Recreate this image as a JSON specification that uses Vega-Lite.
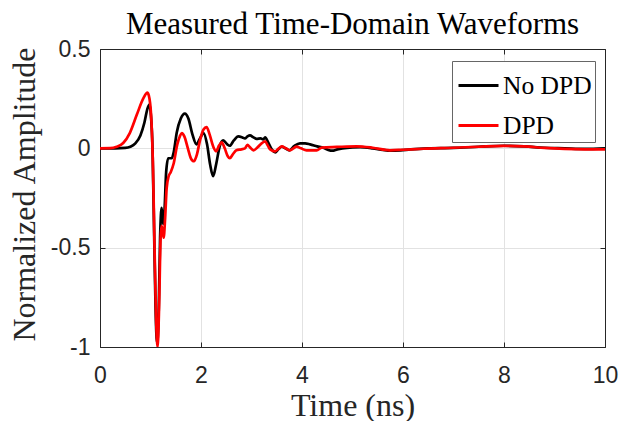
{
  "$schema": "https://vega.github.io/schema/vega-lite/v6.json",
  "autosize": "none",
  "width": 505,
  "height": 298,
  "padding": {"left": 100, "top": 49, "right": 15, "bottom": 74},
  "background": "white",
  "config": {
    "view": {"stroke": null},
    "axis": {
      "domainColor": "#262626",
      "domainWidth": 1,
      "tickColor": "#262626",
      "tickWidth": 1,
      "tickSize": -5,
      "labelFont": "Liberation Sans",
      "labelFontSize": 23,
      "labelColor": "#262626",
      "gridColor": "#e2e2e2",
      "gridWidth": 1,
      "titleFont": "Liberation Serif",
      "titleFontSize": 32,
      "titleFontWeight": "normal",
      "titleColor": "#262626"
    },
    "legend": {
      "labelFont": "Liberation Serif",
      "labelFontSize": 25.5,
      "labelColor": "black"
    },
    "title": {
      "font": "Liberation Serif",
      "fontSize": 31,
      "fontWeight": "normal",
      "color": "black",
      "anchor": "middle",
      "baseline": "alphabetic",
      "offset": -3
    }
  },
  "title": "Measured Time-Domain Waveforms",
  "data": {
    "values": [
      {"t": 0, "amp": 0, "series": "No DPD"},
      {"t": 0.3, "amp": 0, "series": "No DPD"},
      {"t": 0.5, "amp": 0.002, "series": "No DPD"},
      {"t": 0.6, "amp": 0.008, "series": "No DPD"},
      {"t": 0.7, "amp": 0.025, "series": "No DPD"},
      {"t": 0.8, "amp": 0.065, "series": "No DPD"},
      {"t": 0.88, "amp": 0.13, "series": "No DPD"},
      {"t": 0.94, "amp": 0.2, "series": "No DPD"},
      {"t": 0.98, "amp": 0.22, "series": "No DPD"},
      {"t": 1.01, "amp": 0.16, "series": "No DPD"},
      {"t": 1.04, "amp": 0.0, "series": "No DPD"},
      {"t": 1.07, "amp": -0.4, "series": "No DPD"},
      {"t": 1.1, "amp": -0.8, "series": "No DPD"},
      {"t": 1.13, "amp": -0.98, "series": "No DPD"},
      {"t": 1.16, "amp": -0.85, "series": "No DPD"},
      {"t": 1.19, "amp": -0.45, "series": "No DPD"},
      {"t": 1.22, "amp": -0.3, "series": "No DPD"},
      {"t": 1.25, "amp": -0.38, "series": "No DPD"},
      {"t": 1.28, "amp": -0.3, "series": "No DPD"},
      {"t": 1.31, "amp": -0.12, "series": "No DPD"},
      {"t": 1.35, "amp": -0.05, "series": "No DPD"},
      {"t": 1.42, "amp": -0.05, "series": "No DPD"},
      {"t": 1.46, "amp": -0.02, "series": "No DPD"},
      {"t": 1.52, "amp": 0.08, "series": "No DPD"},
      {"t": 1.6, "amp": 0.15, "series": "No DPD"},
      {"t": 1.68, "amp": 0.175, "series": "No DPD"},
      {"t": 1.75, "amp": 0.15, "series": "No DPD"},
      {"t": 1.83, "amp": 0.07, "series": "No DPD"},
      {"t": 1.91, "amp": 0.02, "series": "No DPD"},
      {"t": 1.98, "amp": 0.05, "series": "No DPD"},
      {"t": 2.05, "amp": 0.077, "series": "No DPD"},
      {"t": 2.12, "amp": 0.02, "series": "No DPD"},
      {"t": 2.18, "amp": -0.08, "series": "No DPD"},
      {"t": 2.24, "amp": -0.14, "series": "No DPD"},
      {"t": 2.3, "amp": -0.08, "series": "No DPD"},
      {"t": 2.37, "amp": 0.01, "series": "No DPD"},
      {"t": 2.44, "amp": 0.04, "series": "No DPD"},
      {"t": 2.52, "amp": 0.02, "series": "No DPD"},
      {"t": 2.57, "amp": 0.013, "series": "No DPD"},
      {"t": 2.65, "amp": 0.04, "series": "No DPD"},
      {"t": 2.74, "amp": 0.06, "series": "No DPD"},
      {"t": 2.82, "amp": 0.055, "series": "No DPD"},
      {"t": 2.87, "amp": 0.05, "series": "No DPD"},
      {"t": 2.92, "amp": 0.06, "series": "No DPD"},
      {"t": 2.97, "amp": 0.065, "series": "No DPD"},
      {"t": 3.04, "amp": 0.055, "series": "No DPD"},
      {"t": 3.1, "amp": 0.048, "series": "No DPD"},
      {"t": 3.18, "amp": 0.05, "series": "No DPD"},
      {"t": 3.23, "amp": 0.045, "series": "No DPD"},
      {"t": 3.27, "amp": 0.055, "series": "No DPD"},
      {"t": 3.33, "amp": 0.03, "series": "No DPD"},
      {"t": 3.4, "amp": -0.005, "series": "No DPD"},
      {"t": 3.47, "amp": -0.02, "series": "No DPD"},
      {"t": 3.53, "amp": -0.005, "series": "No DPD"},
      {"t": 3.6, "amp": 0.008, "series": "No DPD"},
      {"t": 3.67, "amp": 0.0, "series": "No DPD"},
      {"t": 3.75, "amp": -0.01, "series": "No DPD"},
      {"t": 3.85, "amp": 0.012, "series": "No DPD"},
      {"t": 3.96, "amp": 0.025, "series": "No DPD"},
      {"t": 4.06, "amp": 0.025, "series": "No DPD"},
      {"t": 4.16, "amp": 0.02, "series": "No DPD"},
      {"t": 4.3, "amp": 0.01, "series": "No DPD"},
      {"t": 4.42, "amp": 0.003, "series": "No DPD"},
      {"t": 4.52, "amp": -0.008, "series": "No DPD"},
      {"t": 4.6, "amp": -0.012, "series": "No DPD"},
      {"t": 4.7, "amp": -0.005, "series": "No DPD"},
      {"t": 4.8, "amp": 0.0, "series": "No DPD"},
      {"t": 5.0, "amp": 0.005, "series": "No DPD"},
      {"t": 5.15, "amp": 0.006, "series": "No DPD"},
      {"t": 5.4, "amp": 0.0, "series": "No DPD"},
      {"t": 5.6, "amp": -0.008, "series": "No DPD"},
      {"t": 5.75, "amp": -0.012, "series": "No DPD"},
      {"t": 5.95, "amp": -0.01, "series": "No DPD"},
      {"t": 6.15, "amp": -0.005, "series": "No DPD"},
      {"t": 6.5, "amp": 0.0, "series": "No DPD"},
      {"t": 7.0, "amp": 0.002, "series": "No DPD"},
      {"t": 7.5, "amp": 0.008, "series": "No DPD"},
      {"t": 8.0, "amp": 0.013, "series": "No DPD"},
      {"t": 8.4, "amp": 0.01, "series": "No DPD"},
      {"t": 8.8, "amp": 0.003, "series": "No DPD"},
      {"t": 9.2, "amp": 0.0, "series": "No DPD"},
      {"t": 9.6, "amp": -0.003, "series": "No DPD"},
      {"t": 10, "amp": 0.0, "series": "No DPD"},
      {"t": 0, "amp": 0, "series": "DPD"},
      {"t": 0.2, "amp": 0.001, "series": "DPD"},
      {"t": 0.33, "amp": 0.008, "series": "DPD"},
      {"t": 0.46, "amp": 0.027, "series": "DPD"},
      {"t": 0.59, "amp": 0.077, "series": "DPD"},
      {"t": 0.73, "amp": 0.17, "series": "DPD"},
      {"t": 0.86, "amp": 0.253, "series": "DPD"},
      {"t": 0.94, "amp": 0.28, "series": "DPD"},
      {"t": 0.98, "amp": 0.25, "series": "DPD"},
      {"t": 1.02, "amp": 0.13, "series": "DPD"},
      {"t": 1.05, "amp": -0.1, "series": "DPD"},
      {"t": 1.08, "amp": -0.5, "series": "DPD"},
      {"t": 1.11, "amp": -0.85, "series": "DPD"},
      {"t": 1.14, "amp": -1.0, "series": "DPD"},
      {"t": 1.17, "amp": -0.8, "series": "DPD"},
      {"t": 1.2, "amp": -0.45, "series": "DPD"},
      {"t": 1.22, "amp": -0.39, "series": "DPD"},
      {"t": 1.26, "amp": -0.45, "series": "DPD"},
      {"t": 1.29, "amp": -0.35, "series": "DPD"},
      {"t": 1.32, "amp": -0.2, "series": "DPD"},
      {"t": 1.36, "amp": -0.14, "series": "DPD"},
      {"t": 1.4, "amp": -0.12, "series": "DPD"},
      {"t": 1.46, "amp": -0.075, "series": "DPD"},
      {"t": 1.53, "amp": 0.02, "series": "DPD"},
      {"t": 1.58, "amp": 0.06, "series": "DPD"},
      {"t": 1.62, "amp": 0.077, "series": "DPD"},
      {"t": 1.67, "amp": 0.06, "series": "DPD"},
      {"t": 1.74, "amp": 0.0, "series": "DPD"},
      {"t": 1.8, "amp": -0.05, "series": "DPD"},
      {"t": 1.86, "amp": -0.065, "series": "DPD"},
      {"t": 1.92, "amp": -0.03, "series": "DPD"},
      {"t": 1.98, "amp": 0.04, "series": "DPD"},
      {"t": 2.05, "amp": 0.095, "series": "DPD"},
      {"t": 2.11, "amp": 0.107, "series": "DPD"},
      {"t": 2.17, "amp": 0.07, "series": "DPD"},
      {"t": 2.24, "amp": 0.01, "series": "DPD"},
      {"t": 2.3, "amp": -0.015, "series": "DPD"},
      {"t": 2.36, "amp": 0.015, "series": "DPD"},
      {"t": 2.41, "amp": 0.03, "series": "DPD"},
      {"t": 2.47, "amp": 0.0, "series": "DPD"},
      {"t": 2.53, "amp": -0.04, "series": "DPD"},
      {"t": 2.57, "amp": -0.05, "series": "DPD"},
      {"t": 2.63, "amp": -0.03, "series": "DPD"},
      {"t": 2.7, "amp": -0.01, "series": "DPD"},
      {"t": 2.8, "amp": -0.005, "series": "DPD"},
      {"t": 2.87, "amp": 0.0, "series": "DPD"},
      {"t": 2.92, "amp": 0.018, "series": "DPD"},
      {"t": 2.97, "amp": 0.005, "series": "DPD"},
      {"t": 3.04, "amp": -0.01, "series": "DPD"},
      {"t": 3.12, "amp": 0.005, "series": "DPD"},
      {"t": 3.2, "amp": 0.025, "series": "DPD"},
      {"t": 3.27, "amp": 0.035, "series": "DPD"},
      {"t": 3.32, "amp": 0.015, "series": "DPD"},
      {"t": 3.37, "amp": -0.005, "series": "DPD"},
      {"t": 3.47, "amp": -0.015, "series": "DPD"},
      {"t": 3.53, "amp": -0.003, "series": "DPD"},
      {"t": 3.6, "amp": 0.01, "series": "DPD"},
      {"t": 3.68, "amp": 0.0, "series": "DPD"},
      {"t": 3.76, "amp": -0.01, "series": "DPD"},
      {"t": 3.83, "amp": 0.0, "series": "DPD"},
      {"t": 3.89, "amp": 0.009, "series": "DPD"},
      {"t": 3.98, "amp": 0.0, "series": "DPD"},
      {"t": 4.09, "amp": -0.01, "series": "DPD"},
      {"t": 4.29, "amp": -0.01, "series": "DPD"},
      {"t": 4.39, "amp": 0.004, "series": "DPD"},
      {"t": 4.69, "amp": 0.007, "series": "DPD"},
      {"t": 5.08, "amp": 0.01, "series": "DPD"},
      {"t": 5.4, "amp": 0.003, "series": "DPD"},
      {"t": 5.74, "amp": -0.01, "series": "DPD"},
      {"t": 6.0, "amp": -0.007, "series": "DPD"},
      {"t": 6.4, "amp": -0.002, "series": "DPD"},
      {"t": 7.0, "amp": 0.003, "series": "DPD"},
      {"t": 7.5, "amp": 0.008, "series": "DPD"},
      {"t": 8.0, "amp": 0.012, "series": "DPD"},
      {"t": 8.4, "amp": 0.01, "series": "DPD"},
      {"t": 8.8, "amp": 0.002, "series": "DPD"},
      {"t": 9.2, "amp": -0.003, "series": "DPD"},
      {"t": 9.6, "amp": -0.005, "series": "DPD"},
      {"t": 10, "amp": -0.005, "series": "DPD"}
    ]
  },
  "layer": [
    {
      "mark": {"type": "line", "strokeWidth": 2.7, "interpolate": "monotone", "clip": true},
      "encoding": {
        "x": {
          "field": "t",
          "type": "quantitative",
          "scale": {"domain": [0, 10], "nice": false, "zero": false},
          "axis": {
            "orient": "bottom",
            "values": [0, 2, 4, 6, 8, 10],
            "grid": true,
            "labelPadding": 22,
            "labelFlush": false,
            "title": "Time (ns)",
            "titleX": 252.5,
            "titleY": 68,
            "titleAlign": "center",
            "titleBaseline": "alphabetic"
          }
        },
        "y": {
          "field": "amp",
          "type": "quantitative",
          "scale": {"domain": [-1, 0.5], "nice": false, "zero": false},
          "axis": {
            "orient": "left",
            "values": [-1, -0.5, 0, 0.5],
            "grid": true,
            "labelPadding": 15,
            "labelFlush": false,
            "labelExpr": "datum.value == 0 ? '0' : (datum.value < 0 ? '-' : '') + format(abs(datum.value), '~g')",
            "title": "Normalized Amplitude",
            "titleAngle": -90,
            "titleX": -66,
            "titleY": 145,
            "titleAlign": "center",
            "titleBaseline": "alphabetic"
          }
        },
        "color": {
          "field": "series",
          "type": "nominal",
          "sort": ["No DPD", "DPD"],
          "scale": {"domain": ["No DPD", "DPD"], "range": ["#000000", "#ff0000"]},
          "legend": {
            "title": null,
            "orient": "none",
            "legendX": 352,
            "legendY": 12,
            "symbolType": "stroke",
            "symbolSize": 1600,
            "symbolStrokeWidth": 3,
            "symbolOffset": 2,
            "labelOffset": 3,
            "labelFont": "Liberation Serif",
            "labelFontSize": 25.5,
            "labelColor": "black",
            "padding": 3,
            "rowPadding": 5,
            "strokeColor": "#666666",
            "fillColor": "white"
          }
        }
      }
    },
    {
      "mark": {"type": "line", "strokeOpacity": 0},
      "encoding": {
        "x": {
          "field": "t",
          "type": "quantitative",
          "axis": {"orient": "top", "values": [0, 2, 4, 6, 8, 10], "labels": false, "grid": false, "title": null}
        },
        "y": {
          "field": "amp",
          "type": "quantitative",
          "axis": {"orient": "right", "values": [-1, -0.5, 0, 0.5], "labels": false, "grid": false, "title": null}
        }
      }
    }
  ],
  "resolve": {"axis": {"x": "independent", "y": "independent"}}
}
